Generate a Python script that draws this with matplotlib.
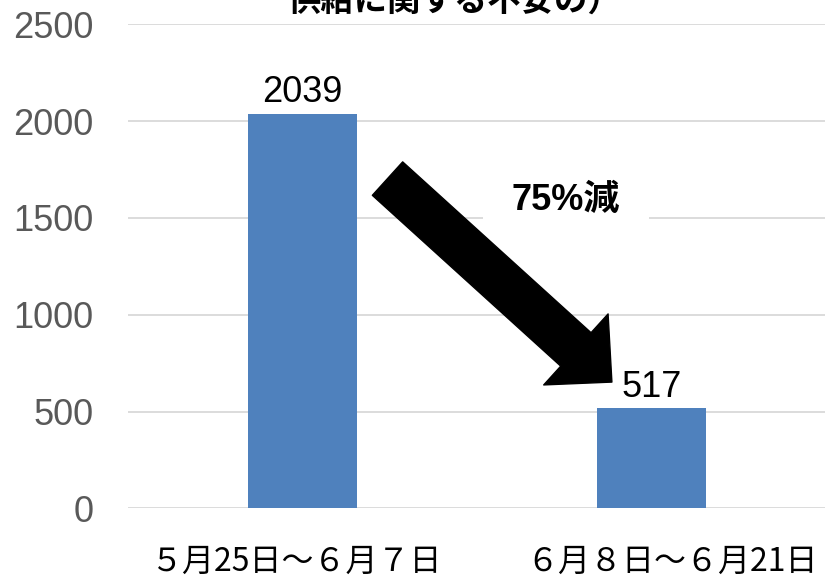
import matplotlib
matplotlib.use("Agg")
import matplotlib.pyplot as plt
from matplotlib.transforms import ScaledTranslation

# data
categories = ["５月25日～６月７日", "６月８日～６月21日"]
values = [2039, 517]
yticks = [0, 500, 1000, 1500, 2000, 2500]
title_text = "供給に関する不安の）"
change_text = "75%減"

bar_color = "#4f81bd"
grid_color = "#d9d9d9"
tick_color = "#595959"

fig = plt.figure(figsize=(8.25, 5.84), dpi=100)
ax = fig.add_axes([0.155, 0.1296, 0.846, 0.8288])

x = list(range(len(categories)))
bars = ax.bar(x, values, width=0.312, color=bar_color, zorder=2)

ax.set_xlim(-0.5, 1.5)
ax.set_ylim(0, 2500)
ax.set_yticks(yticks)
ax.set_yticklabels([str(v) for v in yticks], fontsize=26, color=tick_color,
                   fontfamily="Liberation Sans")
ax.tick_params(axis="y", length=0, pad=25)
ax.yaxis.grid(True, color=grid_color, linewidth=1.3, zorder=0)
ax.set_axisbelow(True)
for s in ax.spines.values():
    s.set_visible(False)

ax.set_xticks(x)
ax.set_xticklabels(categories, fontsize=23, color="black",
                   fontfamily=["Noto Sans CJK JP", "DejaVu Sans"])
ax.tick_params(axis="x", length=0, pad=27)
# shift the category labels a little, like the text boxes in the original
for lab, dx in zip(ax.get_xticklabels(), [-5.5, 20.5]):
    lab.set_transform(lab.get_transform() + ScaledTranslation(dx / 100, 0, fig.dpi_scale_trans))

# value labels
for xi, v in zip(x, values):
    ax.annotate(str(v), (xi, v), xytext=(0, 8), textcoords="offset points",
                ha="center", va="baseline", fontsize=26, color="black",
                fontfamily="Liberation Sans")

# big arrow showing the drop
ax.annotate("", xy=(0.887, 652), xytext=(0.244, 1703),
            arrowprops=dict(arrowstyle="simple,head_length=3.5,head_width=6.9,tail_width=3.25",
                            mutation_scale=10, color="black", shrinkA=0, shrinkB=0),
            zorder=5)

ax.text(0.755, 1590, change_text, ha="center", va="center", fontsize=26,
        fontweight="bold", fontfamily=["Liberation Sans", "Noto Sans CJK JP"],
        bbox=dict(boxstyle="square,pad=0.8", facecolor="white", edgecolor="none"),
        zorder=3)

# title, cut off at the top edge as in the source image
fig.text(0.349, 0.981, title_text, ha="left", va="baseline", fontsize=24,
         fontweight="bold", fontfamily=["Noto Sans CJK JP", "DejaVu Sans"])

fig.savefig("out.png", dpi=100)
